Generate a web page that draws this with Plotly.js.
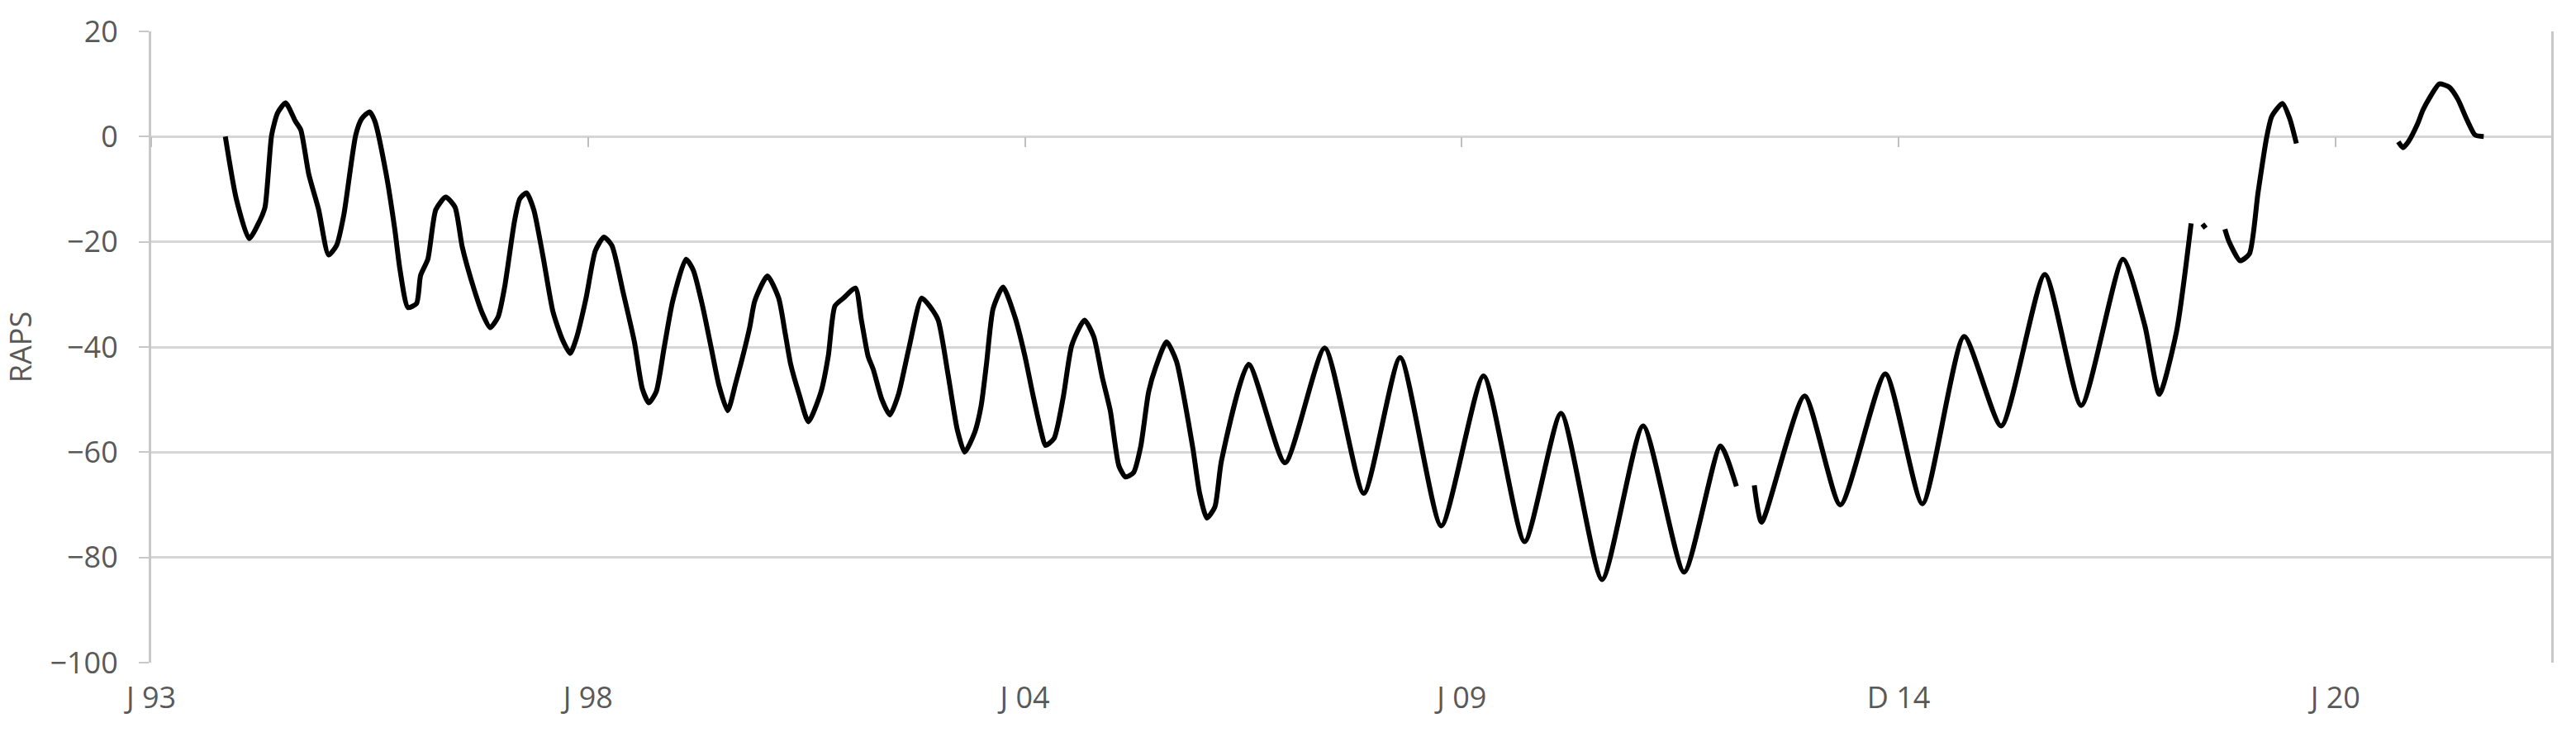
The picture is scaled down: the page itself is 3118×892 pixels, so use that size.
<!DOCTYPE html>
<html>
<head>
<meta charset="utf-8">
<script src="https://cdn.plot.ly/plotly-3.0.1.min.js"></script>
<style>
  html, body { margin: 0; padding: 0; background: #fff; }
  #myPlot { width: 3118px; height: 892px; }
</style>
</head>
<body>
<div id="myPlot"></div>
<script>
// month index counted from Jan 1993, null = gap in the record
var month = [
  11.2, 12.85, 14.8, 16.4, 17.2, 18.2, 19.1, 20.3, 21.8, 22.6, 23.8, 25.3, 26.8, 28.0, 29.1,
  30.9, 31.8, 33.0, 33.8, 35.5, 36.8, 37.6, 38.8, 40.1, 40.7, 41.8, 43.0, 44.5, 45.9, 47.0,
  48.8, 50.1, 51.2, 52.4, 53.4, 54.9, 55.7, 56.7, 57.8, 59.2, 60.7, 62.1, 63.3, 64.2, 65.7,
  67.1, 68.4, 69.6, 71.3, 73.0, 74.2, 75.2, 76.3, 77.5, 78.8, 80.8, 81.9, 83.3, 84.6, 85.8,
  87.1, 88.3, 90.4, 91.2, 93.1, 94.8, 95.8, 96.6, 97.9, 99.3, 101.2, 102.3, 103.3, 104.6, 106.4,
  107.3, 108.3, 109.1, 110.4, 111.6, 112.9, 114.5, 116.4, 117.6, 118.9, 120.4, 121.8, 122.9, 124.4, 125.4,
  126.2, 127.2, 128.7, 130.5, 132.0, 133.2, 134.5, 135.1, 136.4, 137.8, 139.1, 141.0, 142.4, 143.7, 144.9,
  146.2, 147.2, 148.4, 149.5, 150.7, 151.8, 153.4, 154.9, 156.1, 157.4, 158.4, 159.5, 160.7, 161.7,
  165.8, 171.3, 177.3, 183.2, 188.7, 194.9, 201.3, 207.5, 213.0, 219.2, 225.4, 231.6, 237.1, 239.5,
  240.8,
  242.2, 243.3, 249.8, 255.2, 262.0, 267.6, 273.9, 279.5, 286.1, 291.6, 297.9, 301.2, 303.4, 306.0, 308.2,
  309.0,
  309.9, 310.4,
  311.5,
  313.3, 313.9, 315.6, 317.0, 318.3, 319.6, 320.4, 322.0, 323.1, 324.1,
  330.0,
  339.5, 340.2, 341.0, 342.4, 343.2, 344.1, 345.7, 347.2, 348.5, 349.8, 351.1, 352.4
];

var raps = [
  0, -11.8, -19.4, -16.0, -13.4, 0.3, 4.5, 6.4, 2.9, 1.3, -7.1, -13.9, -22.5, -20.7, -14.9,
  0.3, 3.4, 4.7, 2.9, -7.1, -17.6, -25.4, -32.5, -31.7, -26.4, -23.3, -13.9, -11.5, -13.4, -21.0,
  -29.1, -33.8, -36.3, -34.3, -28.6, -16.0, -11.8, -10.7, -13.9, -22.8, -33.3, -38.5, -41.2, -38.5, -30.7,
  -21.7, -19.1, -20.7, -29.6, -39.0, -47.9, -50.6, -48.5, -40.1, -31.2, -23.3, -25.4, -32.2, -40.1, -47.4,
  -52.1, -46.9, -36.4, -31.2, -26.5, -30.7, -37.5, -43.2, -49.0, -54.2, -48.5, -41.7, -32.2, -30.7, -28.8,
  -34.9, -41.7, -44.3, -50.0, -52.9, -49.0, -40.1, -30.7, -32.2, -34.9, -45.3, -55.8, -60.0, -56.3, -51.1,
  -43.2, -32.7, -28.6, -34.3, -41.7, -49.0, -56.3, -58.7, -57.4, -49.5, -39.6, -34.9, -38.0, -45.8, -52.1,
  -62.6, -64.7, -63.9, -58.9, -48.5, -43.7, -39.0, -42.7, -50.0, -59.4, -67.8, -72.5, -70.4, -61.6,
  -43.3, -62.0, -40.2, -67.8, -42.0, -74.0, -45.5, -77.0, -52.6, -84.2, -55.0, -82.8, -58.8, -66.5,
  null,
  -66.3, -73.3, -49.3, -70.0, -45.1, -69.8, -38.0, -55.0, -26.2, -51.1, -23.3, -35.9, -49.0, -37.0, -16.5,
  null,
  -16.6, -17.4,
  null,
  -17.6, -19.9, -23.6, -22.3, -10.7, -0.2, 3.9, 6.3, 3.4, -1.3,
  null,
  -1.0, -2.1, -1.0, 2.4, 5.0, 7.1, 10.0, 9.4, 7.1, 3.4, 0.3, 0
];

var tickMonths = [0, 66, 132, 198, 264, 330];
var tickLabels = ['J 93', 'J 98', 'J 04', 'J 09', 'D 14', 'J 20'];

var RAPS = {
    type: 'scatter',
    x: month,
    y: raps,
    mode: 'lines',
    connectgaps: false,
    showlegend: false,
    hoverinfo: 'x+y',
    line: {
        color: '#000000',
        width: 6,
        shape: 'spline',
        smoothing: 0.6
    }
}

// empty trace so the axis through zero gets drawn
var ZeroAxis = {
    type: 'scatter',
    x: [],
    y: [],
    xaxis: 'x2',
    mode: 'lines',
    showlegend: false,
    hoverinfo: 'skip'
}

var data = [RAPS, ZeroAxis]

var layout = {
    width: 3118,
    height: 892,
    margin: { l: 183, r: 30, t: 38, b: 90 },
    paper_bgcolor: '#ffffff',
    plot_bgcolor: '#ffffff',
    font: { family: 'Open Sans, sans-serif', size: 36, color: '#595959' },
    showlegend: false,
    // bottom axis only carries the labels
    xaxis: {
        range: [0, 362.6],
        tickvals: tickMonths,
        ticktext: tickLabels,
        ticks: '',
        showgrid: false,
        zeroline: false,
        showline: false,
        ticklabelstandoff: 18,
        tickfont: { size: 36, color: '#595959' }
    },
    // axis crossing at zero with the tick marks (Excel style)
    xaxis2: {
        overlaying: 'x',
        anchor: 'free',
        position: 100 / 120,
        side: 'bottom',
        range: [0, 362.6],
        tickvals: tickMonths,
        ticks: 'outside',
        ticklen: 12,
        tickwidth: 2,
        tickcolor: '#bfbfbf',
        showticklabels: false,
        showgrid: false,
        zeroline: false,
        showline: false
    },
    yaxis: {
        range: [-100, 20],
        dtick: 20,
        ticks: 'outside',
        ticklen: 12,
        tickwidth: 2,
        tickcolor: '#c8c8c8',
        showline: true,
        mirror: true,
        linecolor: '#c8c8c8',
        linewidth: 3,
        gridcolor: '#d6d6d6',
        gridwidth: 3,
        zeroline: false,
        ticklabelstandoff: 18,
        tickfont: { size: 36, color: '#595959' },
        title: { text: 'RAPS', standoff: 16, font: { size: 36, color: '#595959' } }
    }
}

Plotly.newPlot('myPlot', data, layout, { staticPlot: true });
</script>
</body>
</html>
